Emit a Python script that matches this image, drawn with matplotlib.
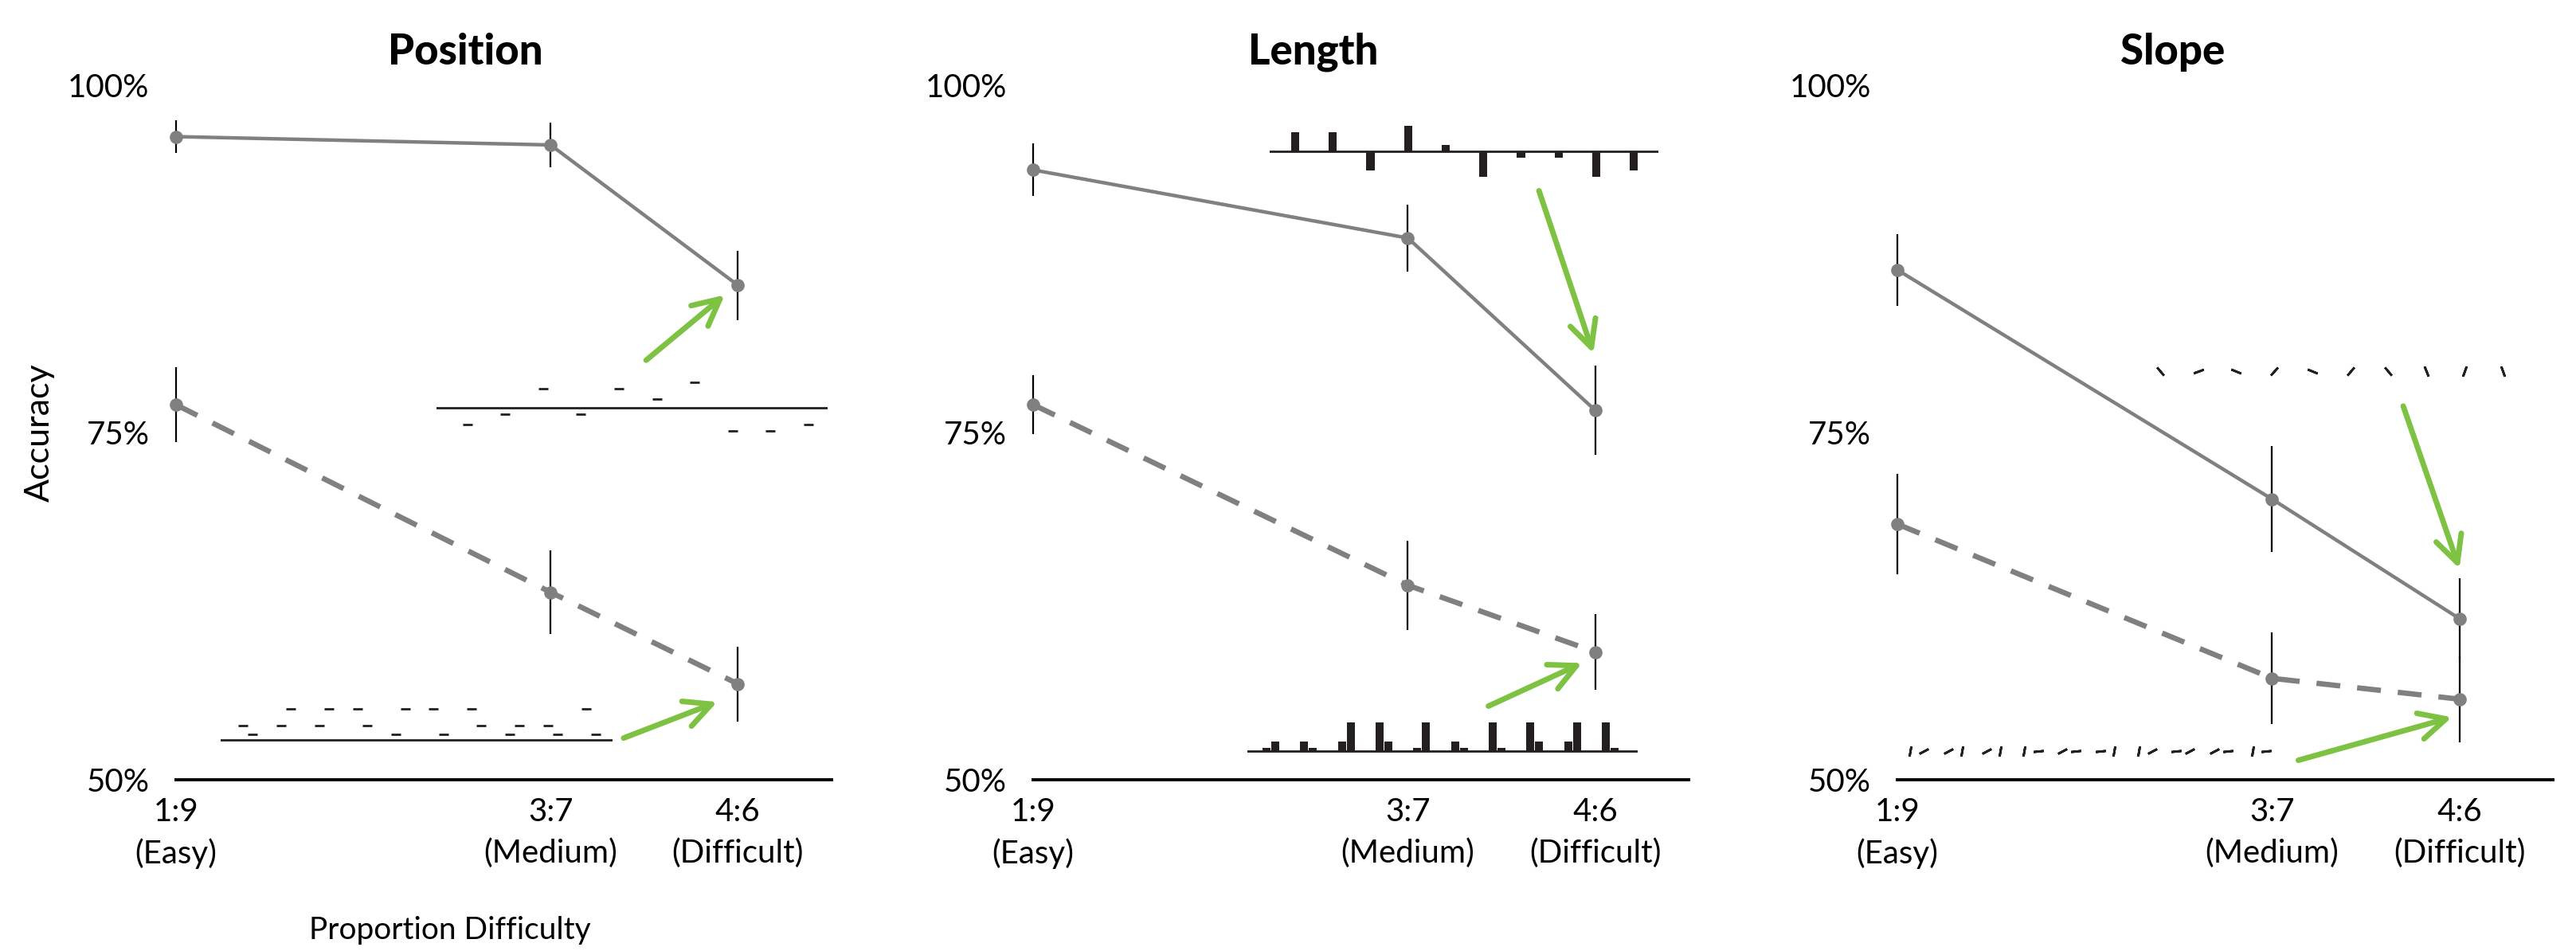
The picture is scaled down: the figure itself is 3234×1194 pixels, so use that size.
"""Accuracy vs. proportion difficulty for position / length / slope judgments."""
import matplotlib
matplotlib.use("Agg")
import matplotlib.pyplot as plt  # noqa: E402
import numpy as np  # noqa: E402

# ---- data -----------------------------------------------------------------
difficulty = [0.1, 0.3, 0.4]
difficulty_labels = ["1:9\n(Easy)", "3:7\n(Medium)", "4:6\n(Difficult)"]
panel_titles = ["Position", "Length", "Slope"]
y_ticks = [50, 75, 100]

position_solid = [96.3, 95.7, 85.6]
position_solid_err = [1.2, 1.6, 2.5]
position_dashed = [77.0, 63.5, 56.9]
position_dashed_err = [2.7, 3.0, 2.7]

length_solid = [93.9, 89.0, 76.6]
length_solid_err = [1.9, 2.4, 3.2]
length_dashed = [77.0, 64.0, 59.2]
length_dashed_err = [2.1, 3.2, 2.7]

slope_solid = [86.7, 70.2, 61.6]
slope_solid_err = [2.6, 3.8, 2.9]
slope_dashed = [68.4, 57.3, 55.8]
slope_dashed_err = [3.6, 3.3, 3.1]

# stimulus glyphs (offsets / heights in px, angles in degrees)
position_top_offsets = [-21, -8, 24, -8, 24, 11, 32, -29, -29, -21]
position_bottom_first = [18, 18, 18, 39, 7, 39, 39, 7, 18, 39]
position_bottom_second = [7, 39, 39, 18, 39, 7, 18, 18, 7, 7]

length_top_bars = [3, 3, -3, 4, 1, -4, -1, -1, -4, -3]
length_bottom_first = [4, 12, 12, 36, 4, 12, 36, 36, 12, 36]
length_bottom_second = [12, 4, 36, 12, 36, 4, 4, 12, 36, 4]

slope_top_angles = [-50, 20, -22, 48, -22, 50, -50, -68, 70, -70]
slope_bottom_first = [80, 28, 28, 80, 28, 6, 80, 6, 28, 80]
slope_bottom_second = [28, 80, 80, 6, 6, 80, 28, 28, 6, 6]

# ---- style ----------------------------------------------------------------
GRAY = "#808080"
INK = "#231f20"
GREEN = "#7dc242"
FONT = ["Lato", "DejaVu Sans"]
PX_PER_PCT = 17.44          # vertical px per accuracy point
LEN_UNIT_PX = 8             # px per unit of the length-top bars
LEFTS = [0.0683, 0.4011, 0.7366]
TITLE_X = [0.442, 0.427, 0.420]

plt.rcParams["font.family"] = FONT

panels = {
    "Position": (position_solid, position_solid_err, position_dashed, position_dashed_err),
    "Length": (length_solid, length_solid_err, length_dashed, length_dashed_err),
    "Slope": (slope_solid, slope_solid_err, slope_dashed, slope_dashed_err),
}
arrows = {
    "Position": [((0.351, 80.2), (0.393, 84.9)), ((0.339, 53.0), (0.389, 55.6))],
    "Length": [((0.370, 92.4), (0.399, 80.7)), ((0.343, 55.3), (0.393, 58.4))],
    "Slope": [((0.370, 76.9), (0.400, 65.2)), ((0.314, 51.4), (0.396, 54.5))],
}


def inset(ax, x0, x1, y_mid, span_px, xlim):
    h = span_px / PX_PER_PCT
    ins = ax.inset_axes([x0, y_mid - h / 2, x1 - x0, h], transform=ax.transData)
    ins.set_xlim(*xlim)
    ins.set_ylim(-span_px / 2, span_px / 2)
    ins.axis("off")
    return ins


def draw_position(ax):
    ins = inset(ax, 0.239, 0.448, 76.8, 80, (-0.82, 9.51))
    ins.axhline(0, color=INK, lw=1.0)
    idx = np.arange(len(position_top_offsets))
    ins.plot(idx, position_top_offsets, ls="none", marker="_", ms=4, mew=1.0, color=INK)

    ins = inset(ax, 0.1239, 0.333, 52.87, 90, (-0.71, 9.56))
    ins.axhline(0, color=INK, lw=1.0)
    idx = np.arange(len(position_bottom_first))
    ins.plot(idx - 0.126, position_bottom_first, ls="none", marker="_", ms=4, mew=1.0, color=INK)
    ins.plot(idx + 0.126, position_bottom_second, ls="none", marker="_", ms=4, mew=1.0, color=INK)


def draw_length(ax):
    ins = inset(ax, 0.2263, 0.4339, 95.24, 80, (-0.675, 9.66))
    ins.axhline(0, color=INK, lw=1.0, zorder=3)
    idx = np.arange(len(length_top_bars))
    ins.bar(idx, np.array(length_top_bars) * LEN_UNIT_PX, width=0.22, color=INK)

    ins = inset(ax, 0.2144, 0.4225, 52.06, 80, (-0.62, 9.72))
    ins.axhline(0, color=INK, lw=1.0, zorder=3)
    idx = np.arange(len(length_bottom_first))
    ins.bar(idx - 0.116, length_bottom_first, width=0.21, color=INK)
    ins.bar(idx + 0.116, length_bottom_second, width=0.21, color=INK)


def draw_slope(ax):
    ins = inset(ax, 0.2301, 0.4331, 79.43, 30, (-0.5, 9.5))
    for i, a in enumerate(slope_top_angles):
        ins.plot(i, 0, marker=(2, 2, a - 90), ms=4.8, mew=1.0, color=INK)

    ins = inset(ax, 0.1004, 0.3032, 52.06, 30, (-0.5, 9.5))
    for i, (a, b) in enumerate(zip(slope_bottom_first, slope_bottom_second)):
        ins.plot(i - 0.179, 0, marker=(2, 2, a - 90), ms=4.6, mew=1.0, color=INK)
        ins.plot(i + 0.179, 0, marker=(2, 2, b - 90), ms=4.6, mew=1.0, color=INK)


glyphs = {"Position": draw_position, "Length": draw_length, "Slope": draw_slope}

fig = plt.figure(figsize=(3234 / 200, 1194 / 200), dpi=200)
for i, name in enumerate(panel_titles):
    ax = fig.add_axes([LEFTS[i], 0.1801, 0.2545, 0.7303])
    ax.set_xlim(0.1, 0.45)
    ax.set_ylim(50, 100)
    for s in ("top", "right", "left"):
        ax.spines[s].set_visible(False)
    ax.spines["bottom"].set_linewidth(1.4)
    ax.set_xticks(difficulty, difficulty_labels)
    ax.set_yticks(y_ticks, [f"{v}%" for v in y_ticks])
    ax.tick_params(length=0, labelsize=14.5)
    ax.tick_params(axis="x", pad=8)
    ax.tick_params(axis="y", pad=12)
    for lab in ax.get_xticklabels():
        lab.set_linespacing(1.45)

    solid, solid_err, dashed, dashed_err = panels[name]
    for mean, err, ls, lw in ((solid, solid_err, "-", 1.6), (dashed, dashed_err, (0, (4.5, 3.2)), 2.4)):
        mean = np.array(mean)
        err = np.array(err)
        ax.vlines(difficulty, mean - err, mean + err, color="black", lw=0.8, clip_on=False, zorder=2)
        ax.plot(difficulty, mean, color=GRAY, ls=ls, lw=lw, marker="o", ms=5,
                clip_on=False, zorder=3)

    glyphs[name](ax)
    for tail, head in arrows[name]:
        ax.annotate("", xy=head, xytext=tail,
                    arrowprops=dict(arrowstyle="->,head_length=0.6,head_width=0.3",
                                    color=GREEN, lw=2.5, mutation_scale=20,
                                    shrinkA=0, shrinkB=0))

    ax.text(TITLE_X[i], 1.048, name, transform=ax.transAxes, ha="center", va="center",
            fontsize=19, fontweight="black")
    if i == 0:
        ax.set_ylabel("Accuracy", fontsize=15.5)
        ax.yaxis.set_label_coords(-0.185, 0.5)

fig.text(0.1747, 0.0218, "Proportion Difficulty", ha="center", va="center", fontsize=14)

fig.savefig("out.png", dpi=200)
